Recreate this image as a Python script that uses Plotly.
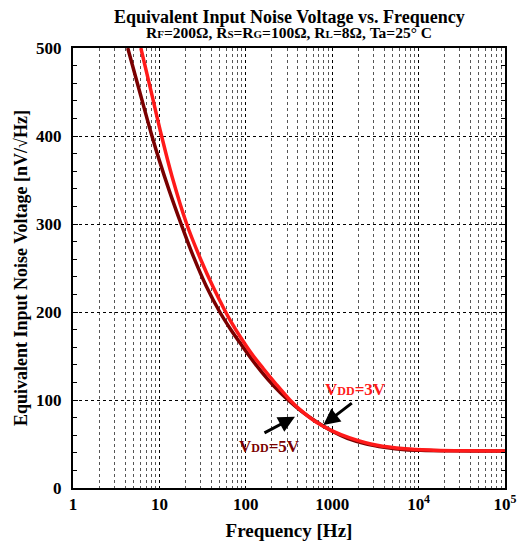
import plotly.graph_objects as go

# VDD = 5V (dark red)
freq_5v = [4.3, 6, 8.2, 10, 13, 18, 25, 35, 50, 66, 90, 130, 180, 250, 330, 450, 650,
           1000, 1500, 2500, 4000, 7000, 12000, 25000, 50000, 100000]
noise_5v = [500, 448, 400, 372, 338, 299, 262, 229, 200, 181, 162, 140.5, 123.5, 108.5, 97.5, 86.5, 75.5,
            64.5, 56.5, 50, 46.3, 43.5, 42.7, 42.2, 42, 42]

# VDD = 3V (red)
freq_3v = [6.1, 8, 10.6, 14, 20.7, 30, 42, 57, 66, 90, 120, 160, 220, 324, 424, 650,
           1000, 1600, 3300, 7000, 15000, 40000, 100000]
noise_3v = [500, 451, 400, 354, 300, 260, 228, 202, 190.5, 169, 151, 135.5, 119, 100, 89, 75,
            65, 57, 48.5, 44.5, 43, 42.3, 42]

x_tickvals = [1, 10, 100, 1000, 10000, 100000]
x_ticktext = ["1", "10", "100", "1000", "10<sup>4</sup>", "10<sup>5</sup>"]
x_minor = [m * 10 ** d for d in range(5) for m in range(2, 10)]
y_tickvals = [0, 100, 200, 300, 400, 500]

FONT = "Liberation Serif"
DARK = "#7a0000"
RED = "#ff1a1a"

fig = go.Figure()
fig.add_trace(go.Scatter(x=freq_5v, y=noise_5v, mode="lines", line=dict(color=DARK, width=3.5, shape="spline"),
                         showlegend=False))
fig.add_trace(go.Scatter(x=freq_3v, y=noise_3v, mode="lines", line=dict(color=RED, width=3.5, shape="spline"),
                         showlegend=False))

fig.update_xaxes(type="log", range=[0, 5], tickvals=x_tickvals, ticktext=[f"<b>{t}</b>" for t in x_ticktext],
                 showline=True, linecolor="black", linewidth=2, mirror=True,
                 showgrid=True, gridcolor="black", griddash="dot", gridwidth=1,
                 ticks="", zeroline=False,
                 minor=dict(tickvals=x_minor, showgrid=True, gridcolor="#555555", griddash="dot", gridwidth=1, ticks=""),
                 tickfont=dict(family=FONT, size=17, color="black"),
                 title=dict(text="<b>Frequency [Hz]</b>", font=dict(family=FONT, size=19, color="black"), standoff=10))
fig.update_yaxes(range=[0, 500], tickvals=y_tickvals, ticktext=[f"<b>{v}</b>" for v in y_tickvals],
                 showline=True, linecolor="black", linewidth=2, mirror="allticks",
                 showgrid=True, gridcolor="black", griddash="dot", gridwidth=1,
                 ticks="inside", ticklen=5, tickcolor="black", zeroline=False,
                 minor=dict(dtick=20, ticks="inside", ticklen=4, tickcolor="black", showgrid=False),
                 tickfont=dict(family=FONT, size=17, color="black"), ticklabelstandoff=6,
                 title=dict(text="<b>Equivalent Input Noise Voltage [nV/√Hz]</b>",
                            font=dict(family=FONT, size=18, color="black"), standoff=4))

fig.add_annotation(xref="paper", yref="paper", x=0.5, y=1.0, yshift=31, yanchor="middle", showarrow=False,
                   text="<b>Equivalent Input Noise Voltage vs. Frequency</b>",
                   font=dict(family=FONT, size=18, color="black"))
sm = "<span style='font-size:11px'>"
fig.add_annotation(xref="paper", yref="paper", x=0.5, y=1.0, yshift=16, yanchor="middle", showarrow=False,
                   text=f"<b>R{sm}F</span>=200Ω, R{sm}S</span>=R{sm}G</span>=100Ω, R{sm}L</span>=8Ω, Ta=25° C</b>",
                   font=dict(family=FONT, size=15.5, color="black"))

# arrows
fig.add_annotation(x=2.897, y=71.6, ax=30, ay=-23, showarrow=True, arrowhead=2, arrowsize=1.1,
                   arrowwidth=3, arrowcolor="black", text="")
fig.add_annotation(x=2.569, y=81, ax=-32, ay=17, showarrow=True, arrowhead=2, arrowsize=1.1,
                   arrowwidth=3, arrowcolor="black", text="")
# labels
sm2 = "<span style='font-size:12px'>"
fig.add_annotation(x=3.264, y=112.5, showarrow=False,
                   text=f"<b>V{sm2}DD</span>=3V</b>", font=dict(family=FONT, size=17, color=RED))
fig.add_annotation(x=2.269, y=47.7, showarrow=False,
                   text=f"<b>V{sm2}DD</span>=5V</b>", font=dict(family=FONT, size=17, color=DARK))

fig.update_layout(width=532, height=545, margin=dict(l=65, r=35, t=40, b=65),
                  plot_bgcolor="white", paper_bgcolor="white",
                  font=dict(family=FONT, color="black"))
fig.write_html("out.html")
